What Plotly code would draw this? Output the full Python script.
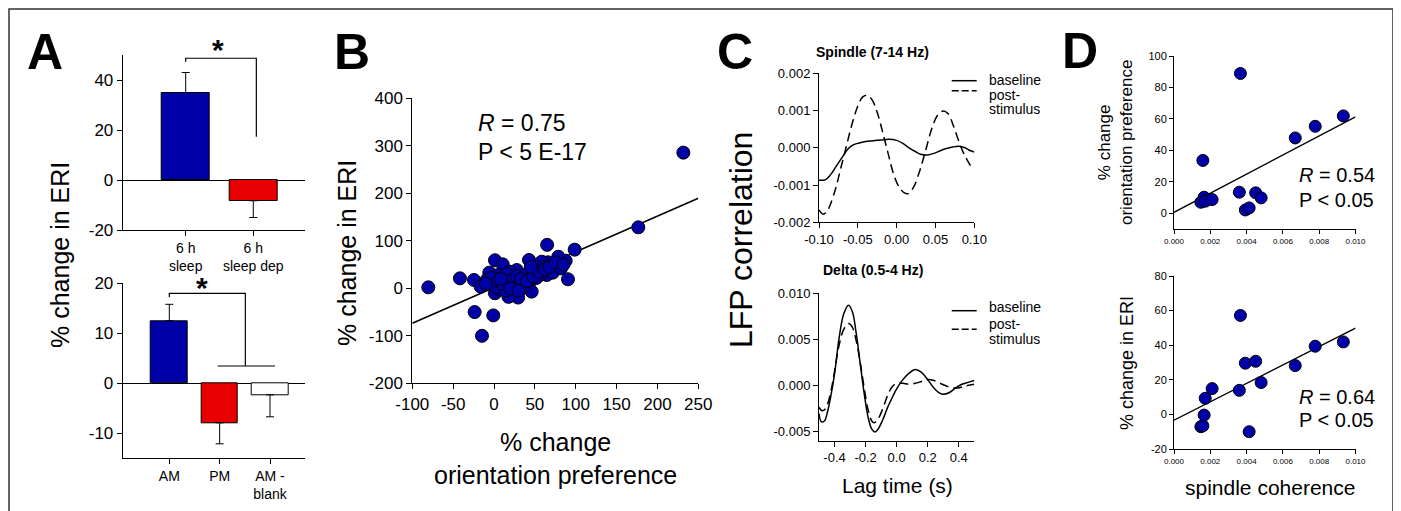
import plotly.graph_objects as go

# the page body keeps its default 8px margin, so the figure is drawn 8px in from the corner
OFF = 8
W, H = 1401 - OFF, 511 - OFF
FONT = "Liberation Sans, Arial, sans-serif"
BLUE = "#0000a8"
RED = "#e80000"

# ---- panel A: ERI change, sleep vs sleep deprivation / AM vs PM
sleep_pos = [1, 2]
sleep_labels = ["6 h<br>sleep", "6 h<br>sleep dep"]
sleep_eri = [35.0, -8.3]
sleep_err = [8.0, 6.7]
sleep_colors = [BLUE, RED]

time_pos = [1, 2, 3]
time_labels = ["AM", "PM", "AM -<br>blank"]
time_eri = [12.5, -7.9, -2.3]
time_err = [3.3, 4.2, 4.4]
time_colors = [BLUE, RED, "white"]

# ---- panel B: orientation preference change vs ERI change
orient_change = [-80.4, -41.7, -24.5, -16.4, -23.7, -0.9, -14.7, 231.7, 176.6, 98.7,
                 65.0, 90.5, 87.7, 78.7, 66.0, 58.4, 70.6, 64.5, 42.8, 45.3,
                 46.1, 46.1, 29.5, 17.7, 1.2, 1.2, 10.6, -5.8, -8.9, 16.3,
                 27.8, 32.0, 34.0, 56.3, 52.0, 9.4, 0.0, 19.0, 5.0, 23.0,
                 7.0, 39.0, 58.4, 77.0, 72.0, 3.0, 12.0, 25.0, 38.0, 14.0,
                 -3.0, 60.0, 82.0, 5.0, 10.0, 15.0, 20.0, 28.0, 33.0, 40.0,
                 48.0, 55.0, 62.0, 68.0, 20.0, 8.0, -10.0, 30.0, 45.0, 75.0,
                 85.0]
eri_change = [2.0, 21.0, 17.5, 3.5, -50.0, -57.0, -100.0, 285.6, 128.4, 81.4,
              91.5, 19.0, 58.0, 66.5, 54.7, 56.0, 35.0, 28.0, 59.6, 37.0,
              17.5, -7.0, -19.5, -18.0, -10.5, 59.0, 50.5, 33.0, 17.5, 19.0,
              38.5, 10.0, 0.0, 28.0, 22.0, 7.0, 14.0, 35.0, 28.0, 7.0,
              -3.0, 7.0, 42.0, 49.0, 33.0, 2.0, 25.0, 22.0, 28.0, -5.0,
              22.0, 45.0, 42.0, 15.0, 10.0, 30.0, 15.0, 25.0, 20.0, 15.0,
              25.0, 35.0, 40.0, 45.0, 0.0, 20.0, 10.0, -5.0, 45.0, 55.0,
              50.0]
fit_b_x = [-100, 250]
fit_b_y = [-73.7, 189.5]

# ---- panel C: LFP cross-correlation
spindle_lag = [-0.100, -0.095, -0.090, -0.085, -0.078, -0.072, -0.065, -0.058, -0.050, -0.044,
               -0.038, -0.032, -0.025, -0.018, -0.011, -0.004, 0.003, 0.010, 0.015, 0.022,
               0.030, 0.038, 0.045, 0.053, 0.060, 0.066, 0.073, 0.080, 0.087, 0.095]
spindle_post = [-0.00167, -0.00178, -0.00172, -0.00150, -0.00105, -0.00055, 0.00002, 0.00060, 0.00112, 0.00136,
                0.00141, 0.00130, 0.00095, 0.00042, -0.00015, -0.00070, -0.00105, -0.00121, -0.00123, -0.00105,
                -0.00060, -0.00002, 0.00050, 0.00088, 0.00099, 0.00092, 0.00060, 0.00018, -0.00018, -0.00048]
spindle_base_lag = [-0.100, -0.092, -0.085, -0.078, -0.070, -0.063, -0.056, -0.048, -0.040, -0.030,
                    -0.020, -0.010, 0.000, 0.008, 0.016, 0.024, 0.032, 0.040, 0.048, 0.056,
                    0.064, 0.072, 0.080, 0.088, 0.095, 0.100]
spindle_base = [-0.00087, -0.00086, -0.00072, -0.00050, -0.00025, -0.00004, 0.00008, 0.00013, 0.00017, 0.00019,
                0.00021, 0.00023, 0.00020, 0.00012, 0.00000, -0.00010, -0.00018, -0.00019, -0.00015, -0.00008,
                -0.00002, 0.00002, 0.00004, 0.00000, -0.00008, -0.00011]

delta_base_lag = [-0.500, -0.485, -0.465, -0.445, -0.425, -0.400, -0.370, -0.340, -0.310, -0.285,
                  -0.260, -0.235, -0.210, -0.185, -0.160, -0.140, -0.120, -0.090, -0.060, -0.030,
                  0.000, 0.040, 0.080, 0.120, 0.160, 0.200, 0.240, 0.280, 0.300, 0.340,
                  0.380, 0.420, 0.460, 0.500]
delta_base = [-0.0031, -0.0040, -0.0039, -0.0029, -0.0013, 0.0012, 0.0052, 0.0078, 0.0087, 0.0080,
              0.0056, 0.0024, -0.0008, -0.0034, -0.0048, -0.0051, -0.0048, -0.0038, -0.0025, -0.0014,
              -0.0004, 0.0006, 0.0013, 0.0017, 0.0014, 0.0006, -0.0003, -0.0009, -0.0010, -0.0008,
              -0.0003, 0.0001, 0.0003, 0.0005]
delta_post_lag = [-0.500, -0.480, -0.460, -0.440, -0.420, -0.400, -0.370, -0.340, -0.310, -0.285,
                  -0.260, -0.235, -0.210, -0.185, -0.160, -0.145, -0.120, -0.090, -0.060, -0.030,
                  0.000, 0.040, 0.080, 0.120, 0.160, 0.200, 0.240, 0.280, 0.320, 0.360,
                  0.400, 0.440, 0.500]
delta_post = [-0.0024, -0.0028, -0.0026, -0.0018, -0.0004, 0.0015, 0.0044, 0.0061, 0.0067, 0.0063,
              0.0048, 0.0025, -0.0002, -0.0026, -0.0039, -0.0041, -0.0037, -0.0026, -0.0012, -0.0002,
              0.0002, 0.0002, 0.0001, 0.0002, 0.0004, 0.0006, 0.0005, 0.0002, -0.0001, -0.0003,
              -0.0003, -0.0001, 0.0001]

# ---- panel D: spindle coherence
coherence = [0.00148, 0.00159, 0.00166, 0.00172, 0.00210, 0.00360, 0.00366, 0.00393, 0.00414, 0.00450,
             0.00480, 0.00668, 0.00778, 0.00933]
coh_orient = [7.0, 33.6, 10.2, 7.7, 8.7, 13.4, 88.9, 2.1, 3.4, 13.0, 9.8, 47.9, 55.3, 61.9]
coh_eri = [-7.1, -6.6, -0.4, 9.3, 14.9, 13.9, 57.2, 29.6, -10.0, 30.7, 18.4, 28.2, 39.4, 41.9]
fit_d_x = [0.0, 0.010]
fit_d_orient = [0.6, 61.3]
fit_d_eri = [-3.3, 49.9]


def px(x):
    # page pixel -> paper fraction
    return (x - OFF) / W


def py(y):
    return 1 - (y - OFF) / H


def axis(domain, rng, vals, fmt, size, anchor, **kw):
    d = dict(
        domain=domain, range=rng, anchor=anchor, automargin=False,
        tickvals=vals, ticktext=[fmt.format(v) for v in vals] if fmt else None,
        showline=True, linecolor="black", linewidth=1,
        ticks="outside", ticklen=5, tickcolor="black", tickwidth=1,
        showgrid=False, zeroline=False,
        tickfont=dict(size=size, color="black", family=FONT),
    )
    d.update(kw)
    return d


fig = go.Figure()

# A top
fig.add_trace(go.Bar(
    x=sleep_pos, y=sleep_eri, width=0.71, marker=dict(color=sleep_colors, line=dict(color="black", width=1)),
    error_y=dict(type="data", symmetric=False,
                 array=[e if v > 0 else 0 for v, e in zip(sleep_eri, sleep_err)],
                 arrayminus=[e if v < 0 else 0 for v, e in zip(sleep_eri, sleep_err)],
                 color="black", thickness=1, width=4),
    xaxis="x", yaxis="y", showlegend=False))
# A bottom
fig.add_trace(go.Bar(
    x=time_pos, y=time_eri, width=0.73, marker=dict(color=time_colors, line=dict(color="black", width=1)),
    error_y=dict(type="data", symmetric=False,
                 array=[e if v > 0 else 0 for v, e in zip(time_eri, time_err)],
                 arrayminus=[e if v < 0 else 0 for v, e in zip(time_eri, time_err)],
                 color="black", thickness=1, width=4),
    xaxis="x2", yaxis="y2", showlegend=False))

# B
fig.add_trace(go.Scatter(x=fit_b_x, y=fit_b_y, mode="lines", line=dict(color="black", width=1.6),
                         xaxis="x3", yaxis="y3", showlegend=False))
fig.add_trace(go.Scatter(x=orient_change, y=eri_change, mode="markers",
                         marker=dict(size=13, color=BLUE, line=dict(color="black", width=1)),
                         xaxis="x3", yaxis="y3", showlegend=False))

# C
fig.add_trace(go.Scatter(x=spindle_base_lag, y=spindle_base, mode="lines", line=dict(color="black", width=1.5, shape="spline"),
                         xaxis="x4", yaxis="y4", showlegend=False))
fig.add_trace(go.Scatter(x=spindle_lag, y=spindle_post, mode="lines",
                         line=dict(color="black", width=1.5, dash="9px,5px", shape="spline"),
                         xaxis="x4", yaxis="y4", showlegend=False))
fig.add_trace(go.Scatter(x=delta_base_lag, y=delta_base, mode="lines", line=dict(color="black", width=1.5, shape="spline"),
                         xaxis="x5", yaxis="y5", showlegend=False))
fig.add_trace(go.Scatter(x=delta_post_lag, y=delta_post, mode="lines",
                         line=dict(color="black", width=1.5, dash="9px,5px", shape="spline"),
                         xaxis="x5", yaxis="y5", showlegend=False))

# D
for ys, fit, ax in [(coh_orient, fit_d_orient, "6"), (coh_eri, fit_d_eri, "7")]:
    fig.add_trace(go.Scatter(x=fit_d_x, y=fit, mode="lines", line=dict(color="black", width=1.3),
                             xaxis="x" + ax, yaxis="y" + ax, showlegend=False))
    fig.add_trace(go.Scatter(x=coherence, y=ys, mode="markers",
                             marker=dict(size=12, color=BLUE, line=dict(color="black", width=1)),
                             xaxis="x" + ax, yaxis="y" + ax, showlegend=False))

AX_A = [px(122.7), px(305)]
AX_B = [px(412.3), px(698.3)]
AX_C = [px(819), px(974.3)]
AX_D = [px(1174), px(1355.5)]

fig.update_layout(
    template="none",
    width=W, height=H, autosize=False,
    margin=dict(l=0, r=0, t=0, b=0, pad=0),
    paper_bgcolor="white", plot_bgcolor="rgba(0,0,0,0)",
    font=dict(family=FONT, color="black"),
    bargap=0,
    xaxis=axis(AX_A, [0.068, 2.765], sleep_pos, None, 14, "y", ticktext=sleep_labels),
    yaxis=axis([py(230), py(55)], [-20, 50], [-20, 0, 20, 40], "{:d}", 17, "x",
               zeroline=True, zerolinecolor="black", zerolinewidth=1),
    xaxis2=axis(AX_A, [0.074, 3.695], time_pos, None, 14, "y2", ticktext=time_labels),
    yaxis2=axis([py(458.3), py(283.3)], [-15, 20], [-10, 0, 10, 20], "{:d}", 17, "x2",
                zeroline=True, zerolinecolor="black", zerolinewidth=1),
    xaxis3=axis(AX_B, [-100, 250], list(range(-100, 251, 50)), "{:d}", 17, "y3"),
    yaxis3=axis([py(383.3), py(98.3)], [-200, 400], list(range(-200, 401, 100)), "{:d}", 17, "x3"),
    xaxis4=axis(AX_C, [-0.1, 0.1], [-0.1, -0.05, 0.0, 0.05, 0.1], "{:.2f}", 13, "y4"),
    yaxis4=axis([py(222.3), py(73.3)], [-0.002, 0.002], [-0.002, -0.001, 0.0, 0.001, 0.002], "{:.3f}", 13, "x4"),
    xaxis5=axis(AX_C, [-0.5, 0.5], [-0.4, -0.2, 0.0, 0.2, 0.4], "{:.1f}", 13, "y5"),
    yaxis5=axis([py(440.7), py(293.3)], [-0.00605, 0.010], [-0.005, 0.0, 0.005, 0.010], "{:.3f}", 13, "x5"),
    xaxis6=axis(AX_D, [0, 0.010], [0, 0.002, 0.004, 0.006, 0.008, 0.010], "{:.3f}", 8, "y6", ticklen=4),
    yaxis6=axis([py(229), py(56)], [-10, 100], [0, 20, 40, 60, 80, 100], "{:d}", 11, "x6", ticklen=4),
    xaxis7=axis(AX_D, [0, 0.010], [0, 0.002, 0.004, 0.006, 0.008, 0.010], "{:.3f}", 8, "y7", ticklen=4),
    yaxis7=axis([py(449), py(276)], [-20, 80], [-20, 0, 20, 40, 60, 80], "{:d}", 11, "x7", ticklen=4),
)

line = dict(color="black", width=1.2)
shapes = [
    # outer frame (sits at the very edge of the figure)
    dict(type="rect", xref="paper", yref="paper", x0=px(9), x1=px(1393), y0=-0.05, y1=py(9),
         line=dict(color="#333333", width=1.5)),
    # significance brackets
    dict(type="path", xref="x", yref="y", path="M 1,47.3 L 1,48.7 L 2.045,48.7 L 2.045,17.3", line=line),
    dict(type="path", xref="x2", yref="y2", path="M 1,17.2 L 1,18 L 2.51,18 L 2.51,3.46", line=line),
    dict(type="line", xref="x2", yref="y2", x0=1.96, x1=3.1, y0=3.46, y1=3.46, line=line),
    # legend glyphs for panel C
    dict(type="line", xref="paper", yref="paper", x0=px(951.7), x1=px(976.7), y0=py(80.7), y1=py(80.7),
         line=dict(color="black", width=1.5)),
    dict(type="line", xref="paper", yref="paper", x0=px(951.7), x1=px(976.7), y0=py(90.7), y1=py(90.7),
         line=dict(color="black", width=1.5, dash="7px,3px")),
    dict(type="line", xref="paper", yref="paper", x0=px(951.7), x1=px(976.7), y0=py(310.7), y1=py(310.7),
         line=dict(color="black", width=1.5)),
    dict(type="line", xref="paper", yref="paper", x0=px(951.7), x1=px(976.7), y0=py(329.3), y1=py(329.3),
         line=dict(color="black", width=1.5, dash="7px,3px")),
]
fig.update_layout(shapes=shapes)


def note(text, x, y, size, xanchor="center", yanchor="middle", angle=0, bold=False, align="center"):
    fig.add_annotation(
        text=f"<b>{text}</b>" if bold else text, x=px(x), y=py(y), xref="paper", yref="paper",
        showarrow=False, xanchor=xanchor, yanchor=yanchor, textangle=angle, align=align,
        font=dict(size=size, color="black", family=FONT),
    )


# panel letters
note("A", 45, 52, 50, bold=True)
note("B", 352, 52, 50, bold=True)
note("C", 735, 52, 50, bold=True)
note("D", 1080, 51, 50, bold=True)

# stars: box top anchored so the glyph lands at the reference spot
note("*", 218, 31, 30, bold=True, yanchor="top")
note("*", 201.7, 269, 30, bold=True, yanchor="top")

# axis titles
note("% change in ERI", 60, 255, 25, angle=-90)
note("% change in ERI", 347, 253, 25, angle=-90)
note("% change<br>orientation preference", 555, 458, 25)
note("LFP correlation", 741, 240, 32, angle=-90)
note("Lag time (s)", 897, 485, 21)
note("% change<br>orientation preference", 1115, 143, 17, angle=-90)
note("% change in ERI", 1127, 363, 18, angle=-90)
note("spindle coherence", 1270, 487, 21)

# subplot titles in C
note("Spindle (7-14 Hz)", 872, 52, 14, bold=True)
note("Delta (0.5-4 Hz)", 873, 270, 14, bold=True)

# C legends
for ys in ((80, 94.5, 109.5), (306.7, 323.5, 339)):
    for txt, yy in zip(("baseline", "post-", "stimulus"), ys):
        note(txt, 987, yy, 14, xanchor="left")

# statistics
note("<i>R</i> = 0.75", 476, 123, 23, xanchor="left")
note("P < 5 E-17", 476, 152, 23, xanchor="left")
note("<i>R</i> = 0.54", 1297, 175, 20, xanchor="left")
note("P < 0.05", 1297, 200, 20, xanchor="left")
note("<i>R</i> = 0.64", 1297, 397, 20, xanchor="left")
note("P < 0.05", 1297, 420, 20, xanchor="left")

fig.write_html("out.html")
